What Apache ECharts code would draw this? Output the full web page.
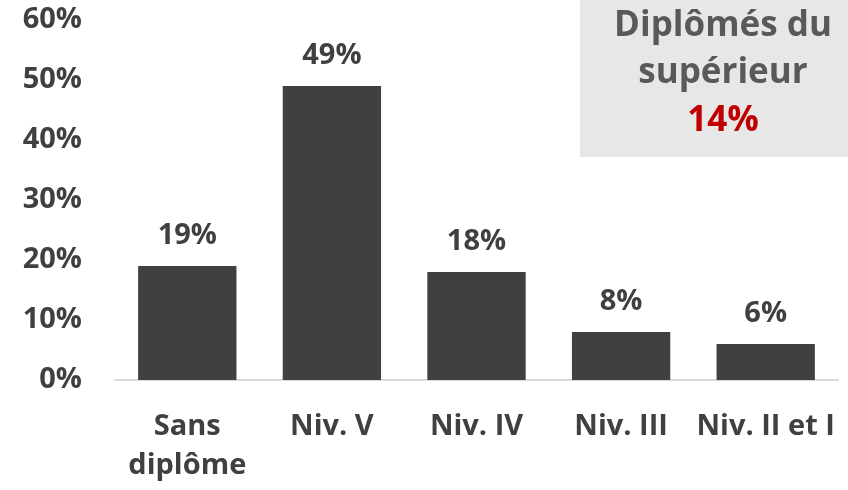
<!DOCTYPE html>
<html><head><meta charset="utf-8">
<script src="https://cdn.jsdelivr.net/npm/echarts@6/dist/echarts.min.js"></script>
<style>html,body{margin:0;padding:0;background:#fff}#c{width:848px;height:490px}</style>
</head><body><div id="c"></div>
<script>
const categories = ['Sans\ndiplôme', 'Niv. V', 'Niv. IV', 'Niv. III', 'Niv. II et I'];
const values = [19, 49, 18, 8, 6];
const yTicks = { min: 0, max: 60, interval: 10 };
const boxTitle = ['Diplômés du', 'supérieur'];
const boxValue = 14;

const chart = echarts.init(document.getElementById('c'));
const font = '"Open Sans", "Noto Sans", sans-serif';
chart.setOption({
  animation: false,
  grid: { left: 115, right: 10, top: 20, bottom: 110, outerBoundsMode: 'none' },
  xAxis: {
    type: 'category', data: categories,
    axisLine: { lineStyle: { color: '#d9d9d9', width: 2 } },
    axisTick: { show: false },
    axisLabel: { interval: 0, hideOverlap: false, color: '#404040', fontFamily: font, fontWeight: 'bold', fontSize: 29, margin: 27, lineHeight: 39 }
  },
  yAxis: {
    type: 'value', min: yTicks.min, max: yTicks.max, interval: yTicks.interval,
    splitLine: { show: false },
    axisLine: { show: false }, axisTick: { show: false },
    axisLabel: { formatter: '{value}%', color: '#404040', fontFamily: font, fontWeight: 'bold', fontSize: 29, margin: 33 }
  },
  series: [{
    type: 'bar', data: values, barWidth: '68%',
    itemStyle: { color: '#404040' },
    label: { show: true, position: 'top', distance: 16, formatter: '{c}%', color: '#404040', fontFamily: font, fontWeight: 'bold', fontSize: 29 }
  }],
  graphic: [
    { type: 'rect', left: 580, top: 0, shape: { width: 268, height: 157 }, style: { fill: '#e7e7e7' }, z: 10 },
    { type: 'text', x: 723, y: 26, style: { text: boxTitle[0], fill: '#595959', font: 'bold 35px ' + font, textAlign: 'center', textVerticalAlign: 'middle' }, z: 11 },
    { type: 'text', x: 723, y: 73, style: { text: boxTitle[1], fill: '#595959', font: 'bold 35px ' + font, textAlign: 'center', textVerticalAlign: 'middle' }, z: 11 },
    { type: 'text', x: 723, y: 121, style: { text: boxValue + '%', fill: '#c00000', font: 'bold 35px ' + font, textAlign: 'center', textVerticalAlign: 'middle' }, z: 11 }
  ]
});
</script></body></html>
